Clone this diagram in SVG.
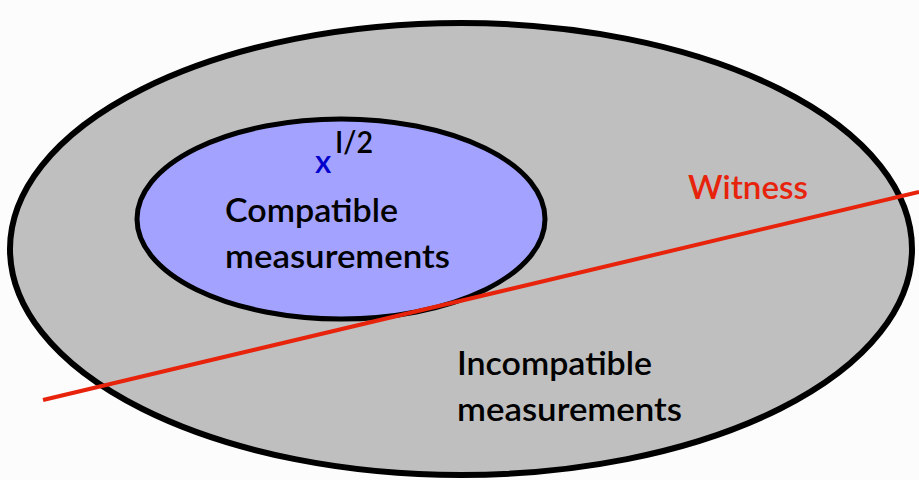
<svg xmlns="http://www.w3.org/2000/svg" width="919" height="480" viewBox="0 0 919 480">
<style>
.lbl{font-family:Lato,"Open Sans","Liberation Sans",sans-serif;font-size:33px;font-weight:600;fill:#000}
</style>
<rect width="919" height="480" fill="#fcfcfc"/>
<g id="incompatible">
<ellipse cx="461" cy="249" rx="451" ry="226" fill="#bfbfbf" stroke="#000" stroke-width="6"/>
<text class="lbl" x="457" y="375" textLength="195" lengthAdjust="spacingAndGlyphs">Incompatible</text>
<text class="lbl" x="457" y="421" textLength="225" lengthAdjust="spacingAndGlyphs">measurements</text>
</g>
<g id="compatible">
<ellipse cx="341" cy="219" rx="204" ry="100" fill="#a3a3ff" stroke="#000" stroke-width="5"/>
<text x="315" y="173" font-family="Lato,'Open Sans','Liberation Sans',sans-serif" font-size="32" font-weight="600" fill="#0000cc">x</text>
<text x="335" y="153" font-family="Lato,'Open Sans','Liberation Sans',sans-serif" font-size="31" font-weight="600" fill="#000" textLength="38" lengthAdjust="spacingAndGlyphs">I/2</text>
<text class="lbl" x="225" y="222" textLength="173" lengthAdjust="spacingAndGlyphs">Compatible</text>
<text class="lbl" x="225" y="268" textLength="225" lengthAdjust="spacingAndGlyphs">measurements</text>
</g>
<g id="connectors">
<line x1="43" y1="400" x2="919" y2="192" stroke="#e8230c" stroke-width="4"/>
</g>
<g id="witness">
<text x="688" y="199" font-family="Lato,'Open Sans','Liberation Sans',sans-serif" font-size="33" font-weight="600" fill="#e8230c" textLength="120" lengthAdjust="spacingAndGlyphs">Witness</text>
</g>
</svg>
